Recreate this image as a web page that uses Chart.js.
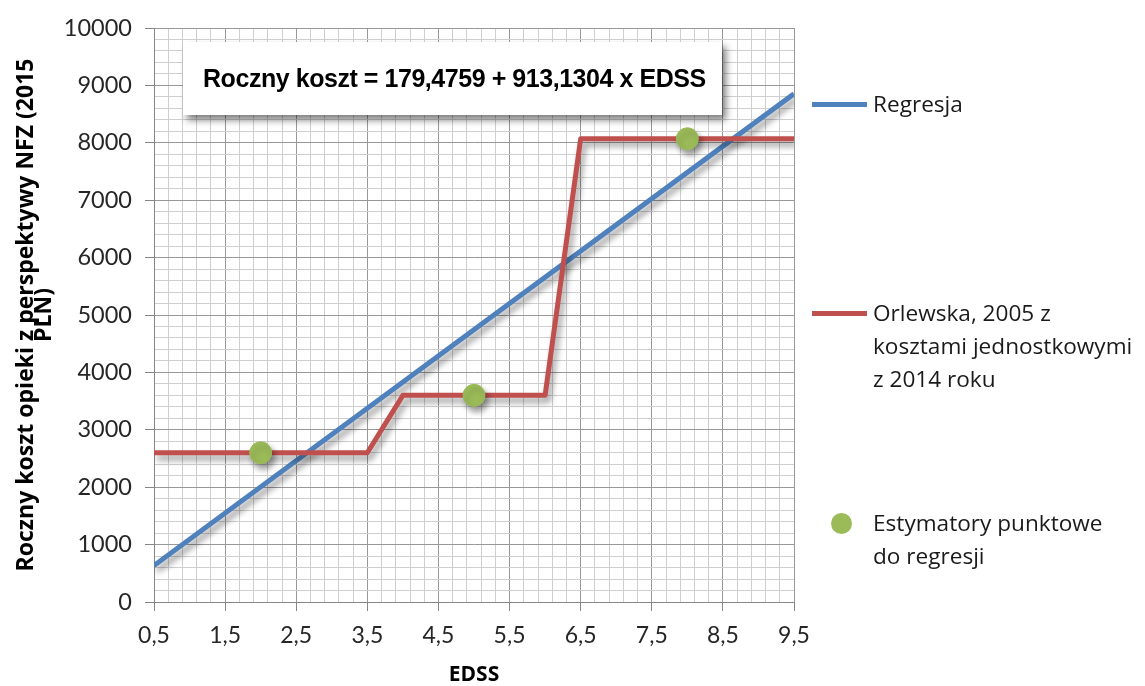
<!DOCTYPE html>
<html>
<head>
<meta charset="utf-8">
<script src="https://cdn.jsdelivr.net/npm/chart.js@4"></script>
<style>
  body { margin: 0; background: #fff; }
  #wrap { position: relative; width: 1145px; height: 686px; }
  #eq {
    position: absolute; left: 183px; top: 42px; width: 539px; height: 73px;
    background: #fff; box-shadow: 4px 5px 7px rgba(0,0,0,0.5);
    font-family: "Liberation Sans", Arial, sans-serif; font-weight: bold;
    font-size: 25px; letter-spacing: -0.45px; color: #000;
    box-sizing: border-box; padding-left: 20px; line-height: 73px; white-space: nowrap;
  }
  .leg { position: absolute; left: 812px; font-family: "Open Sans", sans-serif; font-size: 22.6px; color: #1a1a1a; line-height: 33px; }
  .leg .sw { position: absolute; left: 0; width: 55px; height: 5px; }
  .leg .txt { position: absolute; left: 61px; white-space: nowrap; }
  .leg .dot { position: absolute; left: 19px; width: 21px; height: 21px; border-radius: 50%; background: #9BBB59; }
</style>
</head>
<body>
<div id="wrap">
  <canvas id="costChart" width="1145" height="686"></canvas>
  <div id="eq">Roczny koszt = 179,4759 + 913,1304 x EDSS</div>
  <div class="leg" style="top:87px">
    <div class="sw" style="top:15px;background:#4F81BD"></div>
    <div class="txt" style="top:0">Regresja</div>
  </div>
  <div class="leg" style="top:296px">
    <div class="sw" style="top:15px;background:#C0504D"></div>
    <div class="txt" style="top:0">Orlewska, 2005 z<br>kosztami jednostkowymi<br>z 2014 roku</div>
  </div>
  <div class="leg" style="top:506px">
    <div class="dot" style="top:7px"></div>
    <div class="txt" style="top:0">Estymatory punktowe<br>do regresji</div>
  </div>
</div>
<script>
// regresja: Roczny koszt = 179,4759 + 913,1304 x EDSS (read at the axis ends)
const regX = [0.5, 9.5]
const regY = [636, 8854]

// Orlewska 2005, koszty jednostkowe 2014
const orlX = [0.5, 3.5, 4, 6, 6.5, 9.5]
const orlY = [2600, 2600, 3600, 3600, 8070, 8070]

// estymatory punktowe
const estX = [2, 5, 8]
const estY = [2600, 3600, 8070]

const xMin = 0.5, xMax = 9.5, xMinorStep = 0.2
const yMin = 0, yMax = 10000, yMinorStep = 200

const toPoints = (xs, ys) => xs.map((x, i) => ({x: x, y: ys[i]}))

const majorGrid = '#989898'
const minorGrid = '#cfcfcf'
const axisColor = '#868686'

// shadow under lines and dots like in the excel original
const shadowPlugin = {
  id: 'shadow',
  beforeDatasetDraw(chart) {
    const ctx = chart.ctx
    ctx.save()
    ctx.shadowColor = 'rgba(0,0,0,0.4)'
    ctx.shadowBlur = 6
    ctx.shadowOffsetX = 3
    ctx.shadowOffsetY = 5
  },
  afterDatasetDraw(chart) {
    chart.ctx.restore()
  }
}

const costConfig = {
  type: 'scatter',
  data: {
    datasets: [
      {
        label: 'Estymatory punktowe do regresji',
        data: toPoints(estX, estY),
        backgroundColor: '#9BBB59',
        borderColor: '#9BBB59',
        pointRadius: 11,
        pointHoverRadius: 11,
        order: 0
      },
      {
        label: 'Orlewska, 2005 z kosztami jednostkowymi z 2014 roku',
        data: toPoints(orlX, orlY),
        showLine: true,
        borderColor: '#C0504D',
        borderWidth: 5,
        borderJoinStyle: 'round',
        pointRadius: 0,
        order: 1
      },
      {
        label: 'Regresja',
        data: toPoints(regX, regY),
        showLine: true,
        borderColor: '#4F81BD',
        borderWidth: 5,
        pointRadius: 0,
        order: 2
      }
    ]
  },
  options: {
    responsive: false,
    animation: false,
    devicePixelRatio: 1,
    layout: { padding: { left: 0, top: 28, right: 351, bottom: 0 } },
    plugins: {
      legend: { display: false },
      tooltip: { enabled: false }
    },
    scales: {
      x: {
        type: 'linear',
        min: xMin,
        max: xMax,
        afterBuildTicks: (scale) => {
          const t = []
          for (let i = 0; i <= Math.round((xMax - xMin) / xMinorStep); i++) {
            t.push({ value: +(xMin + i * xMinorStep).toFixed(2) })
          }
          scale.ticks = t
        },
        afterFit: (scale) => { scale.height = 84 },
        ticks: {
          autoSkip: false,
          maxRotation: 0,
          padding: 11,
          color: '#262626',
          font: { family: 'Lato', size: 23 },
          callback: (v, i) => (i % 5 === 0 ? v.toFixed(1).replace('.', ',') : '')
        },
        grid: {
          color: (c) => (c.index % 5 === 0 ? majorGrid : minorGrid),
          tickColor: (c) => (c.index % 5 === 0 ? axisColor : 'rgba(0,0,0,0)'),
          tickLength: 9
        },
        border: { color: axisColor },
        title: {
          display: true,
          text: 'EDSS',
          color: '#000',
          font: { family: 'Open Sans', size: 21, weight: 'bold', lineHeight: 1 },
          padding: { top: 0, bottom: 0 }
        }
      },
      y: {
        type: 'linear',
        min: yMin,
        max: yMax,
        afterBuildTicks: (scale) => {
          const t = []
          for (let v = yMin; v <= yMax; v += yMinorStep) t.push({ value: v })
          scale.ticks = t
        },
        afterFit: (scale) => { scale.width = 154 },
        ticks: {
          autoSkip: false,
          padding: 13,
          color: '#262626',
          font: { family: 'Lato', size: 23.5 },
          callback: (v, i) => (i % 5 === 0 ? String(v) : '')
        },
        grid: {
          color: (c) => (c.index % 5 === 0 ? majorGrid : minorGrid),
          tickColor: (c) => (c.index % 5 === 0 ? axisColor : 'rgba(0,0,0,0)'),
          tickLength: 9
        },
        border: { color: axisColor },
        title: {
          display: true,
          text: ['Roczny koszt opieki z perspektywy NFZ (2015', 'PLN)'],
          color: '#000',
          font: { family: 'Open Sans', size: 23, weight: 'bold', lineHeight: '18px' },
          padding: { top: 17, bottom: 0 }
        }
      }
    }
  },
  plugins: [shadowPlugin]
}

const costChart = new Chart(document.getElementById('costChart'), costConfig)
</script>
</body>
</html>
